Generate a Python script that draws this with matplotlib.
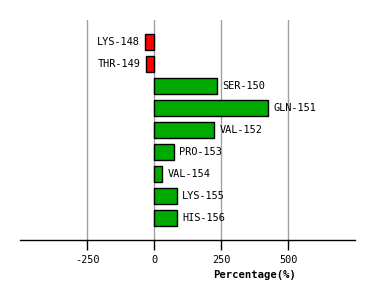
import matplotlib
matplotlib.use("Agg")
import matplotlib.pyplot as plt

residues = ["LYS-148", "THR-149", "SER-150", "GLN-151", "VAL-152",
            "PRO-153", "VAL-154", "LYS-155", "HIS-156"]
percent = [-34, -29, 234, 427, 223, 74, 31, 85, 85]
xticks = [-250, 0, 250, 500]

plt.rcParams["font.family"] = "DejaVu Sans Mono"
plt.rcParams["axes.unicode_minus"] = False

fig = plt.figure(figsize=(3.74, 3.0), dpi=100)
ax = fig.add_axes([20 / 374, 60 / 300, 335 / 374, 220 / 300])

ypos = list(range(len(residues)))
colors = ["#ff0000" if v < 0 else "#00aa00" for v in percent]
ax.barh(ypos, percent, height=0.7, color=colors, edgecolor="black", linewidth=1, zorder=3)

for y, v, name in zip(ypos, percent, residues):
    if v < 0:
        ax.annotate(name, (v, y), xytext=(-4, 0), textcoords="offset points",
                    ha="right", va="center", fontsize=7.4)
    else:
        ax.annotate(name, (v, y), xytext=(4, 0), textcoords="offset points",
                    ha="left", va="center", fontsize=7.4)

ax.set_xlim(-500, 750)
ax.set_ylim(9, -1)
ax.set_xticks(xticks)
ax.set_xticklabels([str(t) for t in xticks], fontsize=7.4)
ax.set_yticks([])
for t in xticks:
    ax.axvline(t, color="#a0a0a0", linewidth=1, zorder=1)

for s in ["top", "right", "left"]:
    ax.spines[s].set_visible(False)
ax.spines["bottom"].set_linewidth(1)
ax.tick_params(axis="x", length=7, width=1, color="black", pad=3.5)

ax.set_xlabel("Percentage(%)", fontsize=7.6, fontweight="bold")
ax.xaxis.set_label_coords(0.70, -0.135)

fig.savefig("out.png", dpi=100)
